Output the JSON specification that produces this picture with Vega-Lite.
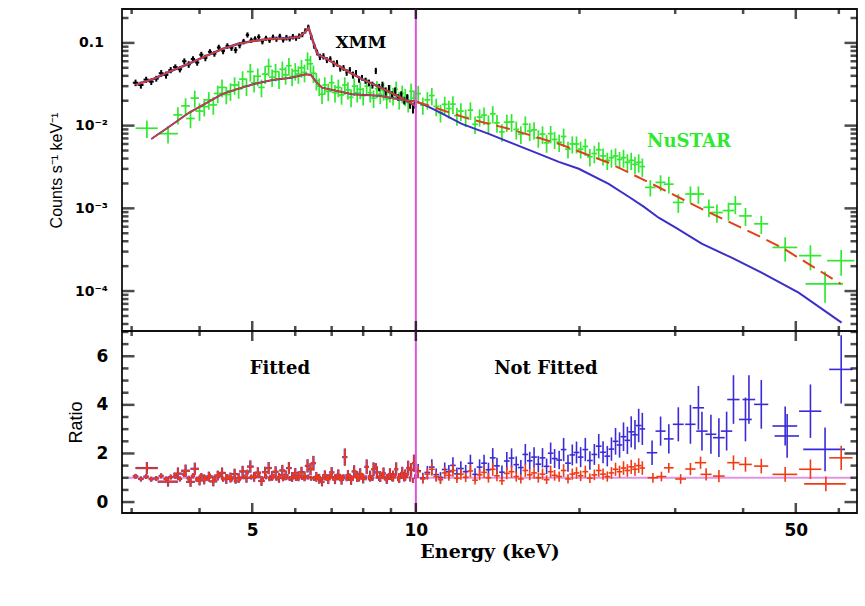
{
"$schema": "https://vega.github.io/schema/vega-lite/v6.json",
"background": "white",
"autosize": {"type": "pad"},
"padding": {"left": 47, "top": 7, "right": 5, "bottom": 5},
"spacing": 0,
"bounds": "flush",
"config": {
  "view": {"stroke": "#111", "strokeWidth": 1.8},
  "axis": {"domain": false, "grid": false, "ticks": false, "labelColor": "#000", "titleColor": "#000"}
},
"datasets": {
  "xt": [{"t":3},{"t":4},{"t":5},{"t":6},{"t":7},{"t":8},{"t":9},{"t":10},{"t":20},{"t":30},{"t":40},{"t":50},{"t":60}],
  "yt": [{"t":0.00004},{"t":0.00005},{"t":0.00006},{"t":0.00007},{"t":0.00008},{"t":0.00009},{"t":0.0001},{"t":0.0002},{"t":0.0003},{"t":0.0004},{"t":0.0005},{"t":0.0006},{"t":0.0007},{"t":0.0008},{"t":0.0009},{"t":0.001},{"t":0.002},{"t":0.003},{"t":0.004},{"t":0.005},{"t":0.006},{"t":0.007},{"t":0.008},{"t":0.009},{"t":0.01},{"t":0.02},{"t":0.03},{"t":0.04},{"t":0.05},{"t":0.06},{"t":0.07},{"t":0.08},{"t":0.09},{"t":0.1},{"t":0.2}],
  "rt": [{"t":0},{"t":0.5},{"t":1},{"t":1.5},{"t":2},{"t":2.5},{"t":3},{"t":3.5},{"t":4},{"t":4.5},{"t":5},{"t":5.5},{"t":6},{"t":6.5},{"t":7}],
  "xmm": [
    {"e":3.05,"de":0.035,"v":0.033,"dv":0.003},{"e":3.12,"de":0.035,"v":0.031,"dv":0.003},{"e":3.19,"de":0.035,"v":0.036,"dv":0.003},{"e":3.26,"de":0.035,"v":0.034,"dv":0.003},{"e":3.33,"de":0.035,"v":0.037,"dv":0.003},{"e":3.40,"de":0.035,"v":0.043,"dv":0.004},{"e":3.47,"de":0.035,"v":0.041,"dv":0.004},{"e":3.54,"de":0.035,"v":0.047,"dv":0.004},{"e":3.61,"de":0.035,"v":0.051,"dv":0.004},{"e":3.68,"de":0.035,"v":0.048,"dv":0.004},{"e":3.75,"de":0.035,"v":0.060,"dv":0.005},{"e":3.82,"de":0.035,"v":0.055,"dv":0.005},{"e":3.89,"de":0.035,"v":0.064,"dv":0.005},{"e":3.96,"de":0.035,"v":0.058,"dv":0.005},{"e":4.03,"de":0.035,"v":0.072,"dv":0.006},{"e":4.10,"de":0.035,"v":0.066,"dv":0.006},{"e":4.18,"de":0.035,"v":0.078,"dv":0.006},{"e":4.26,"de":0.035,"v":0.074,"dv":0.006},{"e":4.34,"de":0.035,"v":0.088,"dv":0.007},{"e":4.42,"de":0.035,"v":0.080,"dv":0.007},{"e":4.50,"de":0.035,"v":0.092,"dv":0.007},{"e":4.58,"de":0.035,"v":0.087,"dv":0.007},{"e":4.66,"de":0.035,"v":0.082,"dv":0.007},{"e":4.74,"de":0.035,"v":0.094,"dv":0.008},{"e":4.82,"de":0.035,"v":0.104,"dv":0.008},{"e":4.90,"de":0.035,"v":0.125,"dv":0.009},{"e":4.98,"de":0.035,"v":0.108,"dv":0.008},{"e":5.06,"de":0.035,"v":0.112,"dv":0.008},{"e":5.14,"de":0.035,"v":0.118,"dv":0.009},{"e":5.22,"de":0.035,"v":0.104,"dv":0.008},{"e":5.30,"de":0.035,"v":0.114,"dv":0.008},{"e":5.38,"de":0.035,"v":0.108,"dv":0.008},{"e":5.46,"de":0.035,"v":0.117,"dv":0.009},{"e":5.54,"de":0.035,"v":0.111,"dv":0.008},{"e":5.62,"de":0.035,"v":0.120,"dv":0.009},{"e":5.70,"de":0.035,"v":0.109,"dv":0.008},{"e":5.78,"de":0.035,"v":0.116,"dv":0.009},{"e":5.86,"de":0.035,"v":0.112,"dv":0.008},{"e":5.94,"de":0.035,"v":0.119,"dv":0.009},{"e":6.02,"de":0.035,"v":0.114,"dv":0.008},{"e":6.10,"de":0.035,"v":0.121,"dv":0.009},{"e":6.18,"de":0.035,"v":0.126,"dv":0.009},{"e":6.26,"de":0.035,"v":0.140,"dv":0.010},{"e":6.34,"de":0.035,"v":0.155,"dv":0.011},{"e":6.42,"de":0.035,"v":0.118,"dv":0.009},{"e":6.50,"de":0.035,"v":0.092,"dv":0.007},{"e":6.58,"de":0.035,"v":0.077,"dv":0.006},{"e":6.66,"de":0.035,"v":0.068,"dv":0.006},{"e":6.76,"de":0.035,"v":0.069,"dv":0.006},{"e":6.86,"de":0.035,"v":0.062,"dv":0.005},{"e":6.96,"de":0.035,"v":0.064,"dv":0.005},{"e":7.06,"de":0.035,"v":0.056,"dv":0.005},{"e":7.16,"de":0.035,"v":0.057,"dv":0.005},{"e":7.26,"de":0.035,"v":0.049,"dv":0.004},{"e":7.36,"de":0.035,"v":0.050,"dv":0.004},{"e":7.46,"de":0.035,"v":0.044,"dv":0.004},{"e":7.56,"de":0.035,"v":0.047,"dv":0.004},{"e":7.66,"de":0.035,"v":0.041,"dv":0.004},{"e":7.76,"de":0.035,"v":0.043,"dv":0.004},{"e":7.86,"de":0.035,"v":0.036,"dv":0.003},{"e":7.96,"de":0.035,"v":0.038,"dv":0.003},{"e":8.08,"de":0.035,"v":0.035,"dv":0.003},{"e":8.20,"de":0.035,"v":0.033,"dv":0.003},{"e":8.32,"de":0.035,"v":0.031,"dv":0.003},{"e":8.44,"de":0.035,"v":0.046,"dv":0.004},{"e":8.56,"de":0.035,"v":0.029,"dv":0.003},{"e":8.68,"de":0.035,"v":0.031,"dv":0.003},{"e":8.80,"de":0.035,"v":0.026,"dv":0.003},{"e":8.92,"de":0.035,"v":0.028,"dv":0.003},{"e":9.04,"de":0.035,"v":0.024,"dv":0.002},{"e":9.16,"de":0.035,"v":0.026,"dv":0.003},{"e":9.28,"de":0.035,"v":0.022,"dv":0.002},{"e":9.40,"de":0.035,"v":0.024,"dv":0.002},{"e":9.52,"de":0.035,"v":0.020,"dv":0.002},{"e":9.64,"de":0.035,"v":0.022,"dv":0.002},{"e":9.76,"de":0.035,"v":0.018,"dv":0.002},{"e":9.88,"de":0.035,"v":0.016,"dv":0.002},{"e":9.98,"de":0.035,"v":0.018,"dv":0.002}
  ],
  "xmmModel": [
    {"e":3.05,"v":0.031},{"e":3.3,"v":0.037},{"e":3.55,"v":0.046},{"e":3.8,"v":0.055},{"e":4.1,"v":0.069},{"e":4.4,"v":0.084},{"e":4.7,"v":0.097},{"e":5.0,"v":0.105},{"e":5.4,"v":0.112},{"e":5.8,"v":0.114},{"e":6.1,"v":0.118},{"e":6.25,"v":0.135},{"e":6.35,"v":0.152},{"e":6.5,"v":0.095},{"e":6.6,"v":0.072},{"e":6.8,"v":0.066},{"e":7.2,"v":0.053},{"e":7.6,"v":0.043},{"e":8.0,"v":0.036},{"e":8.5,"v":0.030},{"e":9.0,"v":0.025},{"e":9.5,"v":0.021},{"e":10.0,"v":0.0172}
  ],
  "nustar": [
    {"e":3.20,"de":0.15,"v":0.0093,"dv":0.0022},{"e":3.50,"de":0.15,"v":0.0080,"dv":0.0019},{"e":3.65,"de":0.07,"v":0.0135,"dv":0.0032},{"e":3.77,"de":0.07,"v":0.0173,"dv":0.0041},{"e":3.85,"de":0.07,"v":0.0122,"dv":0.0029},{"e":3.92,"de":0.07,"v":0.0215,"dv":0.005},{"e":4.00,"de":0.07,"v":0.0150,"dv":0.0036},{"e":4.08,"de":0.07,"v":0.0170,"dv":0.0041},{"e":4.16,"de":0.07,"v":0.0205,"dv":0.0049},{"e":4.24,"de":0.07,"v":0.0178,"dv":0.0043},{"e":4.32,"de":0.07,"v":0.0245,"dv":0.0059},{"e":4.40,"de":0.07,"v":0.0290,"dv":0.007},{"e":4.48,"de":0.07,"v":0.0238,"dv":0.0057},{"e":4.56,"de":0.07,"v":0.0262,"dv":0.0063},{"e":4.64,"de":0.07,"v":0.0310,"dv":0.0074},{"e":4.72,"de":0.07,"v":0.0278,"dv":0.0067},{"e":4.80,"de":0.07,"v":0.0365,"dv":0.0088},{"e":4.88,"de":0.07,"v":0.0300,"dv":0.0072},{"e":4.96,"de":0.07,"v":0.0450,"dv":0.0108},{"e":5.04,"de":0.07,"v":0.0330,"dv":0.0079},{"e":5.12,"de":0.07,"v":0.0395,"dv":0.0095},{"e":5.20,"de":0.07,"v":0.0290,"dv":0.007},{"e":5.28,"de":0.07,"v":0.0420,"dv":0.0101},{"e":5.36,"de":0.07,"v":0.0520,"dv":0.0125},{"e":5.44,"de":0.07,"v":0.0385,"dv":0.0092},{"e":5.52,"de":0.07,"v":0.0450,"dv":0.0108},{"e":5.60,"de":0.07,"v":0.0365,"dv":0.0088},{"e":5.68,"de":0.07,"v":0.0480,"dv":0.0115},{"e":5.76,"de":0.07,"v":0.0410,"dv":0.0098},{"e":5.84,"de":0.07,"v":0.0530,"dv":0.0127},{"e":5.92,"de":0.07,"v":0.0395,"dv":0.0095},{"e":6.00,"de":0.07,"v":0.0460,"dv":0.011},{"e":6.08,"de":0.07,"v":0.0420,"dv":0.0101},{"e":6.16,"de":0.07,"v":0.0500,"dv":0.012},{"e":6.24,"de":0.07,"v":0.0440,"dv":0.0106},{"e":6.32,"de":0.07,"v":0.0620,"dv":0.0149},{"e":6.40,"de":0.07,"v":0.0560,"dv":0.0134},{"e":6.48,"de":0.07,"v":0.0430,"dv":0.0103},{"e":6.56,"de":0.07,"v":0.0350,"dv":0.0084},{"e":6.64,"de":0.07,"v":0.0300,"dv":0.0072},{"e":6.72,"de":0.07,"v":0.0240,"dv":0.0058},{"e":6.80,"de":0.07,"v":0.0310,"dv":0.0074},{"e":6.90,"de":0.08,"v":0.0260,"dv":0.0062},{"e":7.00,"de":0.08,"v":0.0330,"dv":0.0079},{"e":7.10,"de":0.08,"v":0.0250,"dv":0.006},{"e":7.20,"de":0.08,"v":0.0290,"dv":0.007},{"e":7.30,"de":0.08,"v":0.0235,"dv":0.0056},{"e":7.40,"de":0.08,"v":0.0310,"dv":0.0074},{"e":7.50,"de":0.08,"v":0.0270,"dv":0.0065},{"e":7.60,"de":0.08,"v":0.0220,"dv":0.0053},{"e":7.70,"de":0.08,"v":0.0300,"dv":0.0072},{"e":7.80,"de":0.08,"v":0.0250,"dv":0.006},{"e":7.90,"de":0.08,"v":0.0275,"dv":0.0066},{"e":8.00,"de":0.08,"v":0.0230,"dv":0.0055},{"e":8.12,"de":0.08,"v":0.0300,"dv":0.0072},{"e":8.24,"de":0.08,"v":0.0250,"dv":0.006},{"e":8.36,"de":0.08,"v":0.0215,"dv":0.0052},{"e":8.48,"de":0.08,"v":0.0280,"dv":0.0067},{"e":8.60,"de":0.08,"v":0.0240,"dv":0.0058},{"e":8.72,"de":0.08,"v":0.0265,"dv":0.0064},{"e":8.84,"de":0.08,"v":0.0210,"dv":0.005},{"e":8.96,"de":0.08,"v":0.0250,"dv":0.006},{"e":9.08,"de":0.08,"v":0.0230,"dv":0.0055},{"e":9.20,"de":0.08,"v":0.0275,"dv":0.0066},{"e":9.32,"de":0.08,"v":0.0205,"dv":0.0049},{"e":9.44,"de":0.08,"v":0.0245,"dv":0.0059},{"e":9.56,"de":0.08,"v":0.0225,"dv":0.0054},{"e":9.68,"de":0.08,"v":0.0190,"dv":0.0046},{"e":9.80,"de":0.08,"v":0.0260,"dv":0.0062},{"e":9.92,"de":0.08,"v":0.0215,"dv":0.0052},
    {"e":10.1,"de":0.12,"v":0.0244,"dv":0.0059},{"e":10.3,"de":0.12,"v":0.0177,"dv":0.0042},{"e":10.5,"de":0.13,"v":0.0205,"dv":0.0049},{"e":10.7,"de":0.13,"v":0.0231,"dv":0.0055},{"e":10.9,"de":0.13,"v":0.0171,"dv":0.0041},{"e":11.1,"de":0.13,"v":0.0144,"dv":0.0035},{"e":11.3,"de":0.14,"v":0.0181,"dv":0.0043},{"e":11.5,"de":0.14,"v":0.0161,"dv":0.0039},{"e":11.7,"de":0.14,"v":0.0182,"dv":0.0044},{"e":11.9,"de":0.14,"v":0.0132,"dv":0.0032},{"e":12.1,"de":0.15,"v":0.0150,"dv":0.0036},{"e":12.35,"de":0.15,"v":0.0126,"dv":0.003},{"e":12.6,"de":0.15,"v":0.0154,"dv":0.0037},{"e":12.85,"de":0.15,"v":0.0104,"dv":0.0025},{"e":13.1,"de":0.16,"v":0.0127,"dv":0.003},{"e":13.35,"de":0.16,"v":0.0134,"dv":0.0032},{"e":13.6,"de":0.16,"v":0.0107,"dv":0.0026},{"e":13.85,"de":0.17,"v":0.0139,"dv":0.0033},{"e":14.1,"de":0.17,"v":0.0108,"dv":0.0026},{"e":14.4,"de":0.17,"v":0.0084,"dv":0.002},{"e":14.7,"de":0.18,"v":0.0110,"dv":0.0026},{"e":15.0,"de":0.18,"v":0.0111,"dv":0.0027},{"e":15.3,"de":0.18,"v":0.0090,"dv":0.0022},{"e":15.6,"de":0.19,"v":0.0079,"dv":0.0019},{"e":15.9,"de":0.19,"v":0.0104,"dv":0.0025},{"e":16.2,"de":0.19,"v":0.0086,"dv":0.0021},{"e":16.5,"de":0.20,"v":0.0089,"dv":0.0021},{"e":16.8,"de":0.20,"v":0.0071,"dv":0.0017},{"e":17.1,"de":0.21,"v":0.0079,"dv":0.0019},{"e":17.4,"de":0.21,"v":0.0062,"dv":0.0015},{"e":17.7,"de":0.21,"v":0.0080,"dv":0.0019},{"e":18.0,"de":0.22,"v":0.0068,"dv":0.0016},{"e":18.35,"de":0.22,"v":0.0063,"dv":0.0015},{"e":18.7,"de":0.22,"v":0.0074,"dv":0.0018},{"e":19.05,"de":0.23,"v":0.0052,"dv":0.0012},{"e":19.4,"de":0.23,"v":0.0060,"dv":0.0014},{"e":19.75,"de":0.24,"v":0.0060,"dv":0.0014},{"e":20.1,"de":0.24,"v":0.0052,"dv":0.0012},{"e":20.5,"de":0.25,"v":0.0056,"dv":0.0013},{"e":20.9,"de":0.25,"v":0.0042,"dv":0.001},{"e":21.3,"de":0.26,"v":0.0046,"dv":0.0011},{"e":21.7,"de":0.26,"v":0.0051,"dv":0.0012},{"e":22.1,"de":0.27,"v":0.0043,"dv":0.001},{"e":22.5,"de":0.27,"v":0.0038,"dv":0.0009},{"e":22.9,"de":0.27,"v":0.0041,"dv":0.001},{"e":23.3,"de":0.28,"v":0.0043,"dv":0.001},{"e":23.7,"de":0.28,"v":0.0039,"dv":0.0009},{"e":24.1,"de":0.29,"v":0.0041,"dv":0.001},{"e":24.5,"de":0.29,"v":0.0036,"dv":0.0009},{"e":24.9,"de":0.30,"v":0.0038,"dv":0.0009},{"e":25.3,"de":0.30,"v":0.0034,"dv":0.0008},{"e":25.7,"de":0.31,"v":0.0036,"dv":0.0009},{"e":26.1,"de":0.31,"v":0.0032,"dv":0.0008},
    {"e":27.0,"de":0.6,"v":0.00179,"dv":0.0004},{"e":28.2,"de":0.6,"v":0.00206,"dv":0.00045},{"e":29.2,"de":0.6,"v":0.00196,"dv":0.00045},{"e":30.4,"de":0.7,"v":0.00118,"dv":0.0003},{"e":32.0,"de":0.7,"v":0.00149,"dv":0.00035},{"e":33.1,"de":0.8,"v":0.00149,"dv":0.00035},{"e":34.6,"de":0.8,"v":0.00103,"dv":0.00025},{"e":35.8,"de":0.9,"v":0.00089,"dv":0.00022},{"e":37.6,"de":0.9,"v":0.00094,"dv":0.00023},{"e":38.7,"de":1.0,"v":0.00113,"dv":0.00028},{"e":40.4,"de":1.1,"v":0.00081,"dv":0.0002},{"e":43.2,"de":1.3,"v":0.00065,"dv":0.00016},{"e":47.8,"de":2.5,"v":0.000337,"dv":0.00011},{"e":53.2,"de":2.5,"v":0.000268,"dv":0.00009},{"e":56.6,"de":4.5,"v":0.000122,"dv":0.00005},{"e":60.6,"de":3.5,"v":0.000233,"dv":0.00008}
  ],
  "nuBlue": [
    {"e":3.26,"v":0.0069},{"e":3.5,"v":0.0095},{"e":3.83,"v":0.0144},{"e":4.1,"v":0.0185},{"e":4.41,"v":0.0242},{"e":4.8,"v":0.029},{"e":5.06,"v":0.032},{"e":5.45,"v":0.0357},{"e":5.9,"v":0.038},{"e":6.28,"v":0.0418},{"e":6.41,"v":0.041},{"e":6.55,"v":0.034},{"e":6.72,"v":0.0288},{"e":7.2,"v":0.026},{"e":7.63,"v":0.024},{"e":8.55,"v":0.0229},{"e":9.43,"v":0.0205},{"e":10.0,"v":0.0196},
    {"e":10.56,"v":0.01687},{"e":11.02,"v":0.01468},{"e":12.15,"v":0.01051},{"e":13.62,"v":0.00796},{"e":14.82,"v":0.00637},{"e":16.84,"v":0.00456},{"e":18.32,"v":0.00365},{"e":19.94,"v":0.00301},{"e":22.63,"v":0.00198},{"e":24.64,"v":0.00138},{"e":26.25,"v":0.00105},{"e":27.97,"v":0.00077},{"e":30.06,"v":0.000583},{"e":33.56,"v":0.000374},{"e":38.1,"v":0.000253},{"e":43.25,"v":0.000167},{"e":50.6,"v":0.0000957},{"e":60.7,"v":0.0000415}
  ],
  "nuRed": [
    {"e":3.26,"v":0.0069},{"e":3.5,"v":0.0095},{"e":3.83,"v":0.0144},{"e":4.1,"v":0.0185},{"e":4.41,"v":0.0242},{"e":4.8,"v":0.029},{"e":5.06,"v":0.032},{"e":5.45,"v":0.0357},{"e":5.9,"v":0.038},{"e":6.28,"v":0.0418},{"e":6.41,"v":0.041},{"e":6.55,"v":0.034},{"e":6.72,"v":0.0288},{"e":7.2,"v":0.026},{"e":7.63,"v":0.024},{"e":8.55,"v":0.0229},{"e":9.43,"v":0.0205},{"e":10.0,"v":0.0196},
    {"e":11.0,"v":0.0160},{"e":12.36,"v":0.0124},{"e":14.82,"v":0.00915},{"e":18.32,"v":0.00603},{"e":22.63,"v":0.00356},{"e":24.64,"v":0.00271},{"e":27.97,"v":0.0018},{"e":32.7,"v":0.00107},{"e":38.1,"v":0.000663},{"e":43.25,"v":0.000445},{"e":47.1,"v":0.000337},{"e":53.0,"v":0.000209},{"e":60.5,"v":0.000122}
  ],
  "ratioLow": [
    {"e":3.05,"de":0.035,"r":1.06,"dr":0.1},{"e":3.12,"de":0.035,"r":0.95,"dr":0.1},{"e":3.19,"de":0.035,"r":1.05,"dr":0.1},{"e":3.26,"de":0.035,"r":0.94,"dr":0.1},{"e":3.33,"de":0.035,"r":0.97,"dr":0.1},{"e":3.40,"de":0.035,"r":1.08,"dr":0.1},{"e":3.47,"de":0.035,"r":0.95,"dr":0.1},{"e":3.54,"de":0.035,"r":1.03,"dr":0.1},{"e":3.61,"de":0.035,"r":1.06,"dr":0.1},{"e":3.68,"de":0.035,"r":0.95,"dr":0.1},{"e":3.75,"de":0.035,"r":1.13,"dr":0.1},{"e":3.82,"de":0.035,"r":0.98,"dr":0.1},{"e":3.89,"de":0.035,"r":1.08,"dr":0.1},{"e":3.96,"de":0.035,"r":0.94,"dr":0.1},{"e":4.03,"de":0.035,"r":1.09,"dr":0.1},{"e":4.10,"de":0.035,"r":0.96,"dr":0.1},{"e":4.18,"de":0.035,"r":1.07,"dr":0.1},{"e":4.26,"de":0.035,"r":0.96,"dr":0.1},{"e":4.34,"de":0.035,"r":1.09,"dr":0.1},{"e":4.42,"de":0.035,"r":0.94,"dr":0.1},{"e":4.50,"de":0.035,"r":1.05,"dr":0.1},{"e":4.58,"de":0.035,"r":0.95,"dr":0.1},{"e":4.66,"de":0.035,"r":0.86,"dr":0.1},{"e":4.74,"de":0.035,"r":0.96,"dr":0.1},{"e":4.82,"de":0.035,"r":1.04,"dr":0.1},{"e":4.90,"de":0.035,"r":1.23,"dr":0.1},{"e":4.98,"de":0.035,"r":1.03,"dr":0.1},{"e":5.06,"de":0.035,"r":1.06,"dr":0.1},{"e":5.14,"de":0.035,"r":1.10,"dr":0.1},{"e":5.22,"de":0.035,"r":0.95,"dr":0.1},{"e":5.30,"de":0.035,"r":1.04,"dr":0.1},{"e":5.38,"de":0.035,"r":0.96,"dr":0.1},{"e":5.46,"de":0.035,"r":1.04,"dr":0.1},{"e":5.54,"de":0.035,"r":0.98,"dr":0.1},{"e":5.62,"de":0.035,"r":1.06,"dr":0.1},{"e":5.70,"de":0.035,"r":0.96,"dr":0.1},{"e":5.78,"de":0.035,"r":1.02,"dr":0.1},{"e":5.86,"de":0.035,"r":0.97,"dr":0.1},{"e":5.94,"de":0.035,"r":1.03,"dr":0.1},{"e":6.02,"de":0.035,"r":0.97,"dr":0.1},{"e":6.10,"de":0.035,"r":1.03,"dr":0.1},{"e":6.18,"de":0.035,"r":1.01,"dr":0.1},{"e":6.26,"de":0.035,"r":1.02,"dr":0.1},{"e":6.34,"de":0.035,"r":1.03,"dr":0.1},{"e":6.42,"de":0.035,"r":0.98,"dr":0.1},{"e":6.50,"de":0.035,"r":0.97,"dr":0.1},{"e":6.58,"de":0.035,"r":1.03,"dr":0.1},{"e":6.66,"de":0.035,"r":0.97,"dr":0.1},{"e":6.76,"de":0.035,"r":1.03,"dr":0.1},{"e":6.86,"de":0.035,"r":0.97,"dr":0.1},{"e":6.96,"de":0.035,"r":1.05,"dr":0.1},{"e":7.06,"de":0.035,"r":0.97,"dr":0.1},{"e":7.16,"de":0.035,"r":1.06,"dr":0.1},{"e":7.26,"de":0.035,"r":0.96,"dr":0.1},{"e":7.36,"de":0.035,"r":1.04,"dr":0.1},{"e":7.46,"de":0.035,"r":0.96,"dr":0.1},{"e":7.56,"de":0.035,"r":1.07,"dr":0.1},{"e":7.66,"de":0.035,"r":0.98,"dr":0.1},{"e":7.76,"de":0.035,"r":1.08,"dr":0.1},{"e":7.86,"de":0.035,"r":0.95,"dr":0.1},{"e":7.96,"de":0.035,"r":1.06,"dr":0.1},{"e":8.08,"de":0.035,"r":1.0,"dr":0.1},{"e":8.20,"de":0.035,"r":1.0,"dr":0.1},{"e":8.32,"de":0.035,"r":0.97,"dr":0.1},{"e":8.44,"de":0.035,"r":1.48,"dr":0.12},{"e":8.56,"de":0.035,"r":0.97,"dr":0.1},{"e":8.68,"de":0.035,"r":1.07,"dr":0.1},{"e":8.80,"de":0.035,"r":0.96,"dr":0.1},{"e":8.92,"de":0.035,"r":1.08,"dr":0.1},{"e":9.04,"de":0.035,"r":0.96,"dr":0.1},{"e":9.16,"de":0.035,"r":1.08,"dr":0.1},{"e":9.28,"de":0.035,"r":0.96,"dr":0.1},{"e":9.40,"de":0.035,"r":1.09,"dr":0.1},{"e":9.52,"de":0.035,"r":0.95,"dr":0.1},{"e":9.64,"de":0.035,"r":1.10,"dr":0.1},{"e":9.76,"de":0.035,"r":0.95,"dr":0.1},{"e":9.88,"de":0.035,"r":0.89,"dr":0.1},{"e":9.98,"de":0.035,"r":1.05,"dr":0.1},
    {"e":3.20,"de":0.15,"r":1.40,"dr":0.25},{"e":3.50,"de":0.15,"r":0.84,"dr":0.2},{"e":3.65,"de":0.07,"r":1.17,"dr":0.25},{"e":3.77,"de":0.07,"r":1.29,"dr":0.25},{"e":3.85,"de":0.07,"r":0.83,"dr":0.2},{"e":3.92,"de":0.07,"r":1.37,"dr":0.25},{"e":4.00,"de":0.07,"r":0.89,"dr":0.2},{"e":4.08,"de":0.07,"r":0.93,"dr":0.2},{"e":4.16,"de":0.07,"r":1.05,"dr":0.2},{"e":4.24,"de":0.07,"r":0.85,"dr":0.2},{"e":4.32,"de":0.07,"r":1.09,"dr":0.2},{"e":4.40,"de":0.07,"r":1.20,"dr":0.22},{"e":4.48,"de":0.07,"r":0.95,"dr":0.2},{"e":4.56,"de":0.07,"r":1.01,"dr":0.2},{"e":4.64,"de":0.07,"r":1.15,"dr":0.22},{"e":4.72,"de":0.07,"r":0.99,"dr":0.2},{"e":4.80,"de":0.07,"r":1.26,"dr":0.23},{"e":4.88,"de":0.07,"r":1.00,"dr":0.2},{"e":4.96,"de":0.07,"r":1.46,"dr":0.25},{"e":5.04,"de":0.07,"r":1.04,"dr":0.2},{"e":5.12,"de":0.07,"r":1.21,"dr":0.22},{"e":5.20,"de":0.07,"r":0.87,"dr":0.2},{"e":5.28,"de":0.07,"r":1.23,"dr":0.22},{"e":5.36,"de":0.07,"r":1.40,"dr":0.25},{"e":5.44,"de":0.07,"r":1.08,"dr":0.2},{"e":5.52,"de":0.07,"r":1.25,"dr":0.22},{"e":5.60,"de":0.07,"r":1.00,"dr":0.2},{"e":5.68,"de":0.07,"r":1.30,"dr":0.23},{"e":5.76,"de":0.07,"r":1.10,"dr":0.2},{"e":5.84,"de":0.07,"r":1.40,"dr":0.25},{"e":5.92,"de":0.07,"r":1.03,"dr":0.2},{"e":6.00,"de":0.07,"r":1.18,"dr":0.22},{"e":6.08,"de":0.07,"r":1.06,"dr":0.2},{"e":6.16,"de":0.07,"r":1.23,"dr":0.22},{"e":6.24,"de":0.07,"r":1.06,"dr":0.2},{"e":6.32,"de":0.07,"r":1.49,"dr":0.27},{"e":6.40,"de":0.07,"r":1.36,"dr":0.25},{"e":6.48,"de":0.07,"r":1.60,"dr":0.3},{"e":6.56,"de":0.07,"r":1.04,"dr":0.2},{"e":6.64,"de":0.07,"r":0.96,"dr":0.2},{"e":6.72,"de":0.07,"r":0.83,"dr":0.18},{"e":6.80,"de":0.07,"r":1.10,"dr":0.2},{"e":6.90,"de":0.08,"r":0.94,"dr":0.2},{"e":7.00,"de":0.08,"r":1.22,"dr":0.22},{"e":7.10,"de":0.08,"r":0.94,"dr":0.2},{"e":7.20,"de":0.08,"r":1.12,"dr":0.22},{"e":7.30,"de":0.08,"r":0.92,"dr":0.2},{"e":7.40,"de":0.08,"r":1.85,"dr":0.35},{"e":7.50,"de":0.08,"r":1.10,"dr":0.22},{"e":7.60,"de":0.08,"r":0.91,"dr":0.2},{"e":7.70,"de":0.08,"r":1.26,"dr":0.25},{"e":7.80,"de":0.08,"r":1.05,"dr":0.22},{"e":7.90,"de":0.08,"r":1.16,"dr":0.23},{"e":8.00,"de":0.08,"r":0.97,"dr":0.2},{"e":8.12,"de":0.08,"r":1.45,"dr":0.3},{"e":8.24,"de":0.08,"r":1.07,"dr":0.22},{"e":8.36,"de":0.08,"r":1.35,"dr":0.28},{"e":8.48,"de":0.08,"r":1.22,"dr":0.25},{"e":8.60,"de":0.08,"r":1.05,"dr":0.22},{"e":8.72,"de":0.08,"r":1.18,"dr":0.24},{"e":8.84,"de":0.08,"r":0.95,"dr":0.2},{"e":8.96,"de":0.08,"r":1.15,"dr":0.24},{"e":9.08,"de":0.08,"r":1.07,"dr":0.22},{"e":9.20,"de":0.08,"r":1.35,"dr":0.28},{"e":9.32,"de":0.08,"r":0.99,"dr":0.2},{"e":9.44,"de":0.08,"r":1.20,"dr":0.25},{"e":9.56,"de":0.08,"r":1.11,"dr":0.23},{"e":9.68,"de":0.08,"r":1.40,"dr":0.3},{"e":9.80,"de":0.08,"r":1.33,"dr":0.28},{"e":9.92,"de":0.08,"r":1.60,"dr":0.35}
  ],
  "blueHi": [
    {"e":10.1,"de":0.12,"r":1.29,"dr":0.28},{"e":10.3,"de":0.12,"r":0.99,"dr":0.22},{"e":10.5,"de":0.13,"r":1.22,"dr":0.27},{"e":10.7,"de":0.13,"r":1.44,"dr":0.32},{"e":10.9,"de":0.13,"r":1.13,"dr":0.25},{"e":11.1,"de":0.13,"r":1.01,"dr":0.22},{"e":11.3,"de":0.14,"r":1.34,"dr":0.29},{"e":11.5,"de":0.14,"r":1.25,"dr":0.28},{"e":11.7,"de":0.14,"r":1.51,"dr":0.33},{"e":11.9,"de":0.14,"r":1.16,"dr":0.26},{"e":12.1,"de":0.15,"r":1.38,"dr":0.3},{"e":12.35,"de":0.15,"r":1.25,"dr":0.28},{"e":12.6,"de":0.15,"r":1.60,"dr":0.35},{"e":12.85,"de":0.15,"r":1.14,"dr":0.25},{"e":13.1,"de":0.16,"r":1.44,"dr":0.32},{"e":13.35,"de":0.16,"r":1.60,"dr":0.35},{"e":13.6,"de":0.16,"r":1.33,"dr":0.29},{"e":13.85,"de":0.17,"r":1.82,"dr":0.4},{"e":14.1,"de":0.17,"r":1.49,"dr":0.33},{"e":14.4,"de":0.17,"r":1.23,"dr":0.27},{"e":14.7,"de":0.18,"r":1.69,"dr":0.37},{"e":15.0,"de":0.18,"r":1.81,"dr":0.4},{"e":15.3,"de":0.18,"r":1.54,"dr":0.34},{"e":15.6,"de":0.19,"r":1.42,"dr":0.31},{"e":15.9,"de":0.19,"r":1.96,"dr":0.43},{"e":16.2,"de":0.19,"r":1.70,"dr":0.37},{"e":16.5,"de":0.20,"r":1.85,"dr":0.41},{"e":16.8,"de":0.20,"r":1.56,"dr":0.34},{"e":17.1,"de":0.21,"r":1.82,"dr":0.4},{"e":17.4,"de":0.21,"r":1.47,"dr":0.32},{"e":17.7,"de":0.21,"r":2.01,"dr":0.44},{"e":18.0,"de":0.22,"r":1.79,"dr":0.39},{"e":18.35,"de":0.22,"r":1.73,"dr":0.38},{"e":18.7,"de":0.22,"r":2.16,"dr":0.48},{"e":19.05,"de":0.23,"r":1.60,"dr":0.35},{"e":19.4,"de":0.23,"r":1.94,"dr":0.43},{"e":19.75,"de":0.24,"r":2.04,"dr":0.45},{"e":20.1,"de":0.24,"r":1.85,"dr":0.41},{"e":20.5,"de":0.25,"r":2.16,"dr":0.48},{"e":20.9,"de":0.25,"r":1.71,"dr":0.38},{"e":21.3,"de":0.26,"r":1.96,"dr":0.43},{"e":21.7,"de":0.26,"r":2.30,"dr":0.5},{"e":22.1,"de":0.27,"r":2.05,"dr":0.45},{"e":22.5,"de":0.27,"r":1.89,"dr":0.42},{"e":22.9,"de":0.27,"r":2.18,"dr":0.48},{"e":23.3,"de":0.28,"r":2.50,"dr":0.55},{"e":23.7,"de":0.28,"r":2.35,"dr":0.52},{"e":24.1,"de":0.29,"r":2.69,"dr":0.59},{"e":24.5,"de":0.29,"r":2.54,"dr":0.56},{"e":24.9,"de":0.30,"r":2.89,"dr":0.64},{"e":25.3,"de":0.30,"r":2.77,"dr":0.61},{"e":25.7,"de":0.31,"r":3.15,"dr":0.69},{"e":26.1,"de":0.31,"r":3.01,"dr":0.66},
    {"e":27.2,"de":0.6,"r":2.03,"dr":0.5},{"e":28.2,"de":0.6,"r":2.92,"dr":0.6},{"e":29.2,"de":0.6,"r":2.6,"dr":0.6},{"e":30.4,"de":0.7,"r":3.2,"dr":0.7},{"e":32.0,"de":0.7,"r":3.2,"dr":0.8},{"e":33.1,"de":0.8,"r":3.88,"dr":0.9},{"e":33.6,"de":0.8,"r":2.92,"dr":0.8},{"e":34.9,"de":0.8,"r":2.79,"dr":0.8},{"e":36.1,"de":0.9,"r":2.65,"dr":0.8},{"e":37.3,"de":0.9,"r":2.92,"dr":0.8},{"e":38.4,"de":1.0,"r":4.22,"dr":1.0},{"e":40.4,"de":1.1,"r":3.4,"dr":0.9},{"e":41.0,"de":1.1,"r":4.22,"dr":1.0},{"e":43.2,"de":1.3,"r":4.02,"dr":1.0},{"e":47.8,"de":2.5,"r":3.13,"dr":0.8},{"e":48.2,"de":2.5,"r":2.72,"dr":0.9},{"e":53.2,"de":2.5,"r":3.74,"dr":1.1},{"e":56.6,"de":5.0,"r":2.17,"dr":0.9},{"e":60.6,"de":3.0,"r":5.46,"dr":1.4}
  ],
  "redHi": [
    {"e":10.1,"de":0.12,"r":1.25,"dr":0.25},{"e":10.3,"de":0.12,"r":0.95,"dr":0.19},{"e":10.5,"de":0.13,"r":1.15,"dr":0.23},{"e":10.7,"de":0.13,"r":1.35,"dr":0.27},{"e":10.9,"de":0.13,"r":1.05,"dr":0.21},{"e":11.1,"de":0.13,"r":0.92,"dr":0.18},{"e":11.3,"de":0.14,"r":1.20,"dr":0.24},{"e":11.5,"de":0.14,"r":1.10,"dr":0.22},{"e":11.7,"de":0.14,"r":1.30,"dr":0.26},{"e":11.9,"de":0.14,"r":0.98,"dr":0.2},{"e":12.1,"de":0.15,"r":1.15,"dr":0.23},{"e":12.35,"de":0.15,"r":1.02,"dr":0.2},{"e":12.6,"de":0.15,"r":1.28,"dr":0.26},{"e":12.85,"de":0.15,"r":0.90,"dr":0.18},{"e":13.1,"de":0.16,"r":1.12,"dr":0.22},{"e":13.35,"de":0.16,"r":1.22,"dr":0.24},{"e":13.6,"de":0.16,"r":1.00,"dr":0.2},{"e":13.85,"de":0.17,"r":1.35,"dr":0.27},{"e":14.1,"de":0.17,"r":1.08,"dr":0.22},{"e":14.4,"de":0.17,"r":0.88,"dr":0.18},{"e":14.7,"de":0.18,"r":1.18,"dr":0.24},{"e":15.0,"de":0.18,"r":1.25,"dr":0.25},{"e":15.3,"de":0.18,"r":1.05,"dr":0.21},{"e":15.6,"de":0.19,"r":0.95,"dr":0.19},{"e":15.9,"de":0.19,"r":1.30,"dr":0.26},{"e":16.2,"de":0.19,"r":1.12,"dr":0.22},{"e":16.5,"de":0.20,"r":1.20,"dr":0.24},{"e":16.8,"de":0.20,"r":1.00,"dr":0.2},{"e":17.1,"de":0.21,"r":1.15,"dr":0.23},{"e":17.4,"de":0.21,"r":0.92,"dr":0.18},{"e":17.7,"de":0.21,"r":1.25,"dr":0.25},{"e":18.0,"de":0.22,"r":1.10,"dr":0.22},{"e":18.35,"de":0.22,"r":1.05,"dr":0.21},{"e":18.7,"de":0.22,"r":1.30,"dr":0.26},{"e":19.05,"de":0.23,"r":0.95,"dr":0.19},{"e":19.4,"de":0.23,"r":1.15,"dr":0.23},{"e":19.75,"de":0.24,"r":1.20,"dr":0.24},{"e":20.1,"de":0.24,"r":1.08,"dr":0.22},{"e":20.5,"de":0.25,"r":1.25,"dr":0.25},{"e":20.9,"de":0.25,"r":0.98,"dr":0.2},{"e":21.3,"de":0.26,"r":1.12,"dr":0.22},{"e":21.7,"de":0.26,"r":1.30,"dr":0.26},{"e":22.1,"de":0.27,"r":1.15,"dr":0.23},{"e":22.5,"de":0.27,"r":1.05,"dr":0.21},{"e":22.9,"de":0.27,"r":1.20,"dr":0.24},{"e":23.3,"de":0.28,"r":1.35,"dr":0.27},{"e":23.7,"de":0.28,"r":1.25,"dr":0.25},{"e":24.1,"de":0.29,"r":1.40,"dr":0.28},{"e":24.5,"de":0.29,"r":1.30,"dr":0.26},{"e":24.9,"de":0.30,"r":1.45,"dr":0.29},{"e":25.3,"de":0.30,"r":1.35,"dr":0.27},{"e":25.7,"de":0.31,"r":1.50,"dr":0.3},{"e":26.1,"de":0.31,"r":1.40,"dr":0.28},
    {"e":27.3,"de":0.6,"r":1.0,"dr":0.2},{"e":28.3,"de":0.6,"r":1.05,"dr":0.2},{"e":29.2,"de":0.6,"r":1.41,"dr":0.2},{"e":30.7,"de":0.7,"r":0.95,"dr":0.2},{"e":32.0,"de":0.7,"r":1.36,"dr":0.25},{"e":33.4,"de":0.8,"r":1.62,"dr":0.25},{"e":34.2,"de":0.8,"r":1.14,"dr":0.25},{"e":36.1,"de":0.9,"r":1.07,"dr":0.25},{"e":38.4,"de":1.0,"r":1.62,"dr":0.3},{"e":40.4,"de":1.1,"r":1.55,"dr":0.3},{"e":43.2,"de":1.3,"r":1.48,"dr":0.3},{"e":47.8,"de":2.5,"r":1.14,"dr":0.3},{"e":53.2,"de":2.5,"r":1.35,"dr":0.4},{"e":56.8,"de":5.0,"r":0.75,"dr":0.3},{"e":60.6,"de":3.0,"r":1.82,"dr":0.5}
  ]
},
"vconcat": [
  {
    "width": 735, "height": 322,
    "resolve": {"axis": {"x": "independent", "y": "independent"}},
    "layer": [
      {"data": {"name": "nustar"}, "mark": {"type": "errorbar", "color": "#30e830", "thickness": 1.7},
       "encoding": {
         "x": {"field": "e", "type": "quantitative", "scale": {"type": "log", "domain": [2.88, 64.8], "nice": false}, "axis": null},
         "y": {"field": "v", "type": "quantitative", "scale": {"type": "log", "domain": [0.0000329, 0.257], "nice": false},
               "axis": {"orient": "left", "values": [0.0001,0.001,0.01,0.1], "ticks": false,
                        "labelExpr": "datum.value==0.1?'0.1':datum.value==0.01?'10⁻²':datum.value==0.001?'10⁻³':'10⁻⁴'",
                        "labelAlign": "center", "labelBaseline": "middle", "labelPadding": 31, "labelOverlap": false, "labelFlush": false,
                        "labelFont": "DejaVu Sans", "labelFontWeight": "bold", "labelFontSize": 14,
                        "title": "Counts s⁻¹ keV⁻¹", "titleFont": "Liberation Sans", "titleFontSize": 16, "titleFontWeight": "normal", "titlePadding": 10}},
         "yError": {"field": "dv"}}},
      {"data": {"name": "nustar"}, "mark": {"type": "errorbar", "color": "#30e830", "thickness": 1.7},
       "encoding": {"x": {"field": "e", "type": "quantitative", "axis": null}, "xError": {"field": "de"}, "y": {"field": "v", "type": "quantitative", "axis": null}}},
      {"data": {"name": "xmm"}, "mark": {"type": "errorbar", "color": "#000000", "thickness": 2},
       "encoding": {"x": {"field": "e", "type": "quantitative", "axis": null}, "y": {"field": "v", "type": "quantitative", "axis": null}, "yError": {"field": "dv"}}},
      {"data": {"name": "xmm"}, "mark": {"type": "errorbar", "color": "#000000", "thickness": 2},
       "encoding": {"x": {"field": "e", "type": "quantitative", "axis": null}, "xError": {"field": "de"}, "y": {"field": "v", "type": "quantitative", "axis": null}}},
      {"data": {"name": "xmmModel"}, "mark": {"type": "line", "color": "#3b2fc9", "strokeWidth": 2.4},
       "encoding": {"x": {"field": "e", "type": "quantitative", "axis": null}, "y": {"field": "v", "type": "quantitative", "axis": null}}},
      {"data": {"name": "xmmModel"}, "mark": {"type": "line", "color": "#e0401a", "strokeWidth": 1.6},
       "encoding": {"x": {"field": "e", "type": "quantitative", "axis": null}, "y": {"field": "v", "type": "quantitative", "axis": null}}},
      {"data": {"name": "nuBlue"}, "mark": {"type": "line", "color": "#3b2fc9", "strokeWidth": 2},
       "encoding": {"x": {"field": "e", "type": "quantitative", "axis": null}, "y": {"field": "v", "type": "quantitative", "axis": null}}},
      {"data": {"name": "nuRed"}, "transform": [{"filter": "datum.e <= 10"}], "mark": {"type": "line", "color": "#e0401a", "strokeWidth": 1.4},
       "encoding": {"x": {"field": "e", "type": "quantitative", "axis": null}, "y": {"field": "v", "type": "quantitative", "axis": null}}},
      {"data": {"name": "nuRed"}, "transform": [{"filter": "datum.e >= 10"}], "mark": {"type": "line", "color": "#e0401a", "strokeWidth": 2, "strokeDash": [14, 7]},
       "encoding": {"x": {"field": "e", "type": "quantitative", "axis": null}, "y": {"field": "v", "type": "quantitative", "axis": null}}},
      {"data": {"values": [{"e": 10}]}, "mark": {"type": "rule", "color": "#dd55dd", "strokeWidth": 2},
       "encoding": {"x": {"field": "e", "type": "quantitative", "axis": null}}},
      {"data": {"values": [{"e": 7.92, "v": 0.1, "t": "XMM"}]}, "mark": {"type": "text", "font": "DejaVu Serif", "fontWeight": "bold", "fontSize": 17, "color": "#000", "align": "center", "baseline": "middle"},
       "encoding": {"x": {"field": "e", "type": "quantitative", "axis": null}, "y": {"field": "v", "type": "quantitative", "axis": null}, "text": {"field": "t"}}},
      {"data": {"values": [{"e": 31.8, "v": 0.00637, "t": "NuSTAR"}]}, "mark": {"type": "text", "font": "DejaVu Serif", "fontWeight": "bold", "fontSize": 18, "color": "#30e830", "align": "center", "baseline": "middle"},
       "encoding": {"x": {"field": "e", "type": "quantitative", "axis": null}, "y": {"field": "v", "type": "quantitative", "axis": null}, "text": {"field": "t"}}},
      {"data": {"name": "xt"}, "mark": {"type": "tick", "orient": "vertical", "color": "#000", "thickness": 2.5, "clip": true},
       "encoding": {"x": {"field": "t", "type": "quantitative", "axis": null}, "y": {"datum": 0.0000329, "axis": null},
                    "size": {"condition": {"test": "datum.t==5||datum.t==10||datum.t==50", "value": 20}, "value": 10}}},
      {"data": {"name": "xt"}, "mark": {"type": "tick", "orient": "vertical", "color": "#000", "thickness": 2.5, "clip": true},
       "encoding": {"x": {"field": "t", "type": "quantitative", "axis": null}, "y": {"datum": 0.257, "axis": null},
                    "size": {"condition": {"test": "datum.t==5||datum.t==10||datum.t==50", "value": 20}, "value": 10}}},
      {"data": {"name": "yt"}, "mark": {"type": "tick", "orient": "horizontal", "color": "#000", "thickness": 2.5, "clip": true},
       "encoding": {"y": {"field": "t", "type": "quantitative", "axis": null}, "x": {"datum": 2.88, "axis": null},
                    "size": {"condition": {"test": "datum.t==0.1||datum.t==0.01||datum.t==0.001||datum.t==0.0001", "value": 25}, "value": 13}}},
      {"data": {"name": "yt"}, "mark": {"type": "tick", "orient": "horizontal", "color": "#000", "thickness": 2.5, "clip": true},
       "encoding": {"y": {"field": "t", "type": "quantitative", "axis": null}, "x": {"datum": 64.8, "axis": null},
                    "size": {"condition": {"test": "datum.t==0.1||datum.t==0.01||datum.t==0.001||datum.t==0.0001", "value": 25}, "value": 13}}}
    ]
  },
  {
    "width": 735, "height": 182,
    "resolve": {"axis": {"x": "independent", "y": "independent"}},
    "layer": [
      {"data": {"values": [{"e": 2.95, "r": 1}, {"e": 63.5, "r": 1}]}, "mark": {"type": "line", "color": "#e394e3", "strokeWidth": 2},
       "encoding": {
         "x": {"field": "e", "type": "quantitative", "scale": {"type": "log", "domain": [2.88, 64.8], "nice": false},
               "axis": {"orient": "bottom", "values": [5,10,50], "ticks": false,
                        "labelExpr": "format(datum.value,'d')",
                        "labelPadding": 9, "labelOverlap": false, "labelFlush": false,
                        "labelFont": "DejaVu Sans", "labelFontWeight": "bold", "labelFontSize": 17,
                        "title": "Energy (keV)", "titleFont": "DejaVu Serif", "titleFontWeight": "bold", "titleFontSize": 19, "titlePadding": 4}},
         "y": {"field": "r", "type": "quantitative", "scale": {"domain": [-0.45, 7.04], "nice": false, "zero": false},
               "axis": {"orient": "left", "values": [0,2,4,6], "ticks": false,
                        "labelExpr": "format(datum.value,'d')",
                        "labelAlign": "center", "labelBaseline": "middle", "labelPadding": 20, "labelOverlap": false, "labelFlush": false,
                        "labelFont": "DejaVu Sans", "labelFontWeight": "bold", "labelFontSize": 17,
                        "title": "Ratio", "titleFont": "Liberation Sans", "titleFontSize": 18, "titleFontWeight": "normal", "titlePadding": 11}}}},
      {"data": {"name": "ratioLow"}, "mark": {"type": "errorbar", "color": "#3a2bd6", "thickness": 2.2},
       "encoding": {"x": {"field": "e", "type": "quantitative", "axis": null}, "y": {"field": "r", "type": "quantitative", "axis": null}, "yError": {"field": "dr"}}},
      {"data": {"name": "ratioLow"}, "mark": {"type": "errorbar", "color": "#3a2bd6", "thickness": 2.2},
       "encoding": {"x": {"field": "e", "type": "quantitative", "axis": null}, "xError": {"field": "de"}, "y": {"field": "r", "type": "quantitative", "axis": null}}},
      {"data": {"name": "blueHi"}, "mark": {"type": "errorbar", "color": "#3a2bd6", "thickness": 1.6},
       "encoding": {"x": {"field": "e", "type": "quantitative", "axis": null}, "y": {"field": "r", "type": "quantitative", "axis": null}, "yError": {"field": "dr"}}},
      {"data": {"name": "blueHi"}, "mark": {"type": "errorbar", "color": "#3a2bd6", "thickness": 1.6},
       "encoding": {"x": {"field": "e", "type": "quantitative", "axis": null}, "xError": {"field": "de"}, "y": {"field": "r", "type": "quantitative", "axis": null}}},
      {"data": {"name": "ratioLow"}, "mark": {"type": "errorbar", "color": "#f03a14", "thickness": 1.6},
       "encoding": {"x": {"field": "e", "type": "quantitative", "axis": null}, "y": {"field": "r", "type": "quantitative", "axis": null}, "yError": {"field": "dr"}}},
      {"data": {"name": "ratioLow"}, "mark": {"type": "errorbar", "color": "#f03a14", "thickness": 1.6},
       "encoding": {"x": {"field": "e", "type": "quantitative", "axis": null}, "xError": {"field": "de"}, "y": {"field": "r", "type": "quantitative", "axis": null}}},
      {"data": {"name": "redHi"}, "mark": {"type": "errorbar", "color": "#f03a14", "thickness": 1.6},
       "encoding": {"x": {"field": "e", "type": "quantitative", "axis": null}, "y": {"field": "r", "type": "quantitative", "axis": null}, "yError": {"field": "dr"}}},
      {"data": {"name": "redHi"}, "mark": {"type": "errorbar", "color": "#f03a14", "thickness": 1.6},
       "encoding": {"x": {"field": "e", "type": "quantitative", "axis": null}, "xError": {"field": "de"}, "y": {"field": "r", "type": "quantitative", "axis": null}}},
      {"data": {"values": [{"e": 10}]}, "mark": {"type": "rule", "color": "#dd55dd", "strokeWidth": 2},
       "encoding": {"x": {"field": "e", "type": "quantitative", "axis": null}}},
      {"data": {"values": [{"e": 5.62, "r": 5.47, "t": "Fitted"}, {"e": 17.34, "r": 5.47, "t": "Not Fitted"}]},
       "mark": {"type": "text", "font": "DejaVu Serif", "fontWeight": "bold", "fontSize": 18, "color": "#000", "align": "center", "baseline": "middle"},
       "encoding": {"x": {"field": "e", "type": "quantitative", "axis": null}, "y": {"field": "r", "type": "quantitative", "axis": null}, "text": {"field": "t"}}},
      {"data": {"name": "xt"}, "mark": {"type": "tick", "orient": "vertical", "color": "#000", "thickness": 2.5, "clip": true},
       "encoding": {"x": {"field": "t", "type": "quantitative", "axis": null}, "y": {"datum": -0.45, "axis": null},
                    "size": {"condition": {"test": "datum.t==5||datum.t==10||datum.t==50", "value": 20}, "value": 10}}},
      {"data": {"name": "xt"}, "mark": {"type": "tick", "orient": "vertical", "color": "#000", "thickness": 2.5, "clip": true},
       "encoding": {"x": {"field": "t", "type": "quantitative", "axis": null}, "y": {"datum": 7.04, "axis": null},
                    "size": {"condition": {"test": "datum.t==5||datum.t==10||datum.t==50", "value": 20}, "value": 10}}},
      {"data": {"name": "rt"}, "mark": {"type": "tick", "orient": "horizontal", "color": "#000", "thickness": 2.5, "clip": true},
       "encoding": {"y": {"field": "t", "type": "quantitative", "axis": null}, "x": {"datum": 2.88, "axis": null},
                    "size": {"condition": {"test": "datum.t==0||datum.t==2||datum.t==4||datum.t==6", "value": 25}, "value": 13}}},
      {"data": {"name": "rt"}, "mark": {"type": "tick", "orient": "horizontal", "color": "#000", "thickness": 2.5, "clip": true},
       "encoding": {"y": {"field": "t", "type": "quantitative", "axis": null}, "x": {"datum": 64.8, "axis": null},
                    "size": {"condition": {"test": "datum.t==0||datum.t==2||datum.t==4||datum.t==6", "value": 25}, "value": 13}}}
    ]
  }
]
}
